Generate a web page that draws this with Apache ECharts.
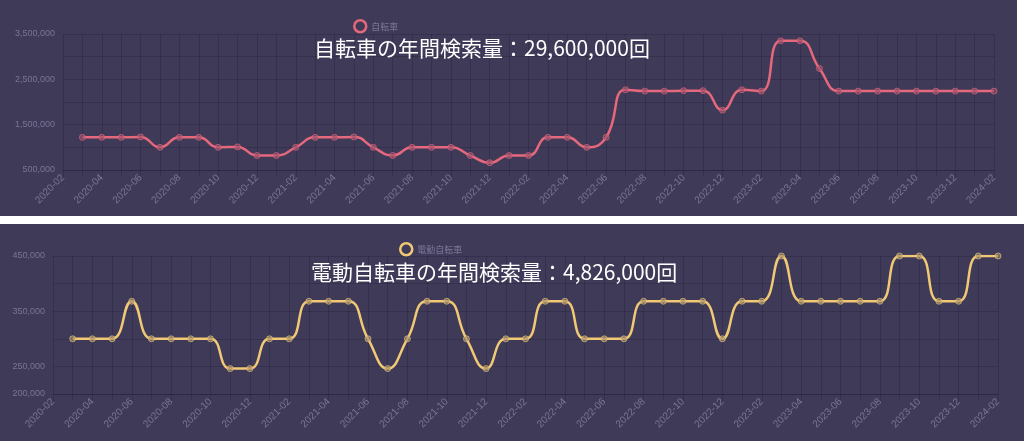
<!DOCTYPE html>
<html><head><meta charset="utf-8">
<script src="https://cdn.jsdelivr.net/npm/echarts@6/dist/echarts.min.js"></script>
<style>
html,body{margin:0;padding:0;background:#ffffff;width:1024px;height:441px;overflow:hidden;}
#c1{position:absolute;left:0;top:0;width:1017px;height:216px;}
#c2{position:absolute;left:0;top:224px;width:1024px;height:217px;}
</style></head>
<body>
<div id="c1"></div>
<div id="c2"></div>
<script>
// Months 2020-02 .. 2024-02
const months = ["2020-02","2020-03","2020-04","2020-05","2020-06","2020-07","2020-08","2020-09","2020-10","2020-11","2020-12",
"2021-01","2021-02","2021-03","2021-04","2021-05","2021-06","2021-07","2021-08","2021-09","2021-10","2021-11","2021-12",
"2022-01","2022-02","2022-03","2022-04","2022-05","2022-06","2022-07","2022-08","2022-09","2022-10","2022-11","2022-12",
"2023-01","2023-02","2023-03","2023-04","2023-05","2023-06","2023-07","2023-08","2023-09","2023-10","2023-11","2023-12",
"2024-01","2024-02"];

const bikeName = "自転車";
const bikeTitle = "自転車の年間検索量：29,600,000回";
const bikeValues = [null,
 1220000,1220000,1220000,1230000,1000000,1220000,1220000,1000000,1010000,820000,
 820000,1000000,1220000,1220000,1230000,1000000,820000,1000000,1000000,1000000,820000,660000,
 820000,820000,1220000,1220000,1000000,1220000,2270000,2240000,2240000,2250000,2250000,1820000,
 2270000,2240000,3350000,3350000,2740000,2240000,2240000,2240000,2240000,2240000,2240000,2240000,
 2240000,2240000];
const bikeYLabels = [500000,1500000,2500000,3500000];

const ebikeName = "電動自転車";
const ebikeTitle = "電動自転車の年間検索量：4,826,000回";
const ebikeValues = [null,
 300000,300000,300000,368000,300000,300000,300000,300000,246000,246000,
 300000,300000,368000,368000,368000,300000,246000,300000,368000,368000,300000,246000,
 300000,300000,368000,368000,300000,300000,300000,368000,368000,368000,368000,300000,
 368000,368000,450000,368000,368000,368000,368000,368000,450000,450000,368000,368000,
 450000,450000];
const ebikeYLabels = [200000,250000,350000,450000];

const BG = "#3e3a58";
const GRIDC = "rgba(15,10,35,0.2)";
const LBL = "#7a7696";

function fmt(v){ return v.toLocaleString('en-US'); }

function build(el, cfg){
  const chart = echarts.init(document.getElementById(el), null, {renderer:'canvas'});
  chart.setOption({
    backgroundColor: BG,
    animation:false,
    title:{text:cfg.title,left:cfg.titleLeft,top:cfg.titleTop,
      textStyle:{color:'#ffffff',fontSize:21,fontWeight:'normal',fontFamily:'"Noto Sans CJK JP","Noto Sans",sans-serif'}},
    legend:{data:[cfg.name],left:cfg.legLeft,top:cfg.legTop,itemWidth:12,itemHeight:12,itemGap:4,
      icon:'circle',
      itemStyle:{color:'transparent',borderColor:cfg.color,borderWidth:2.5},
      textStyle:{color:LBL,fontSize:9,fontFamily:'"Noto Sans CJK JP",sans-serif'}},
    grid:cfg.grid,
    xAxis:{type:'category',data:months,boundaryGap:false,
      axisLine:{show:true,lineStyle:{color:GRIDC}},
      axisTick:{show:true,interval:0,length:7,lineStyle:{color:GRIDC}},
      splitLine:{show:true,interval:0,lineStyle:{color:GRIDC}},
      axisLabel:{interval:1,rotate:45,color:LBL,fontSize:10,margin:6,fontFamily:'"Liberation Sans",Arial,sans-serif'}},
    yAxis:{type:'value',min:cfg.min,max:cfg.max,interval:cfg.interval,
      axisLine:{show:false},axisTick:{show:false},
      splitLine:{show:true,lineStyle:{color:GRIDC}},
      axisLabel:{color:LBL,fontSize:9,margin:8,fontFamily:'"Liberation Sans",Arial,sans-serif',
        formatter:function(v){return cfg.ylabels.indexOf(v)>=0?fmt(v):'';}}},
    series:[{name:cfg.name,type:'line',data:cfg.values,smooth:true,
      symbol:'circle',symbolSize:6,showSymbol:true,
      lineStyle:{color:cfg.color,width:2.5},
      itemStyle:{color:cfg.symFill,borderColor:cfg.symColor,borderWidth:1}}]
  });
}

build('c1',{title:bikeTitle,name:bikeName,values:bikeValues,ylabels:bikeYLabels,
  color:'#e5687c',symColor:'rgba(229,104,124,0.65)',symFill:'rgba(150,80,110,0.6)',min:500000,max:3500000,interval:500000,
  grid:{left:63,right:23,top:34,bottom:46},titleLeft:309,titleTop:33,legLeft:348,legTop:14});
build('c2',{title:ebikeTitle,name:ebikeName,values:ebikeValues,ylabels:ebikeYLabels,
  color:'#f1c874',symColor:'rgba(241,200,116,0.65)',symFill:'rgba(160,140,110,0.6)',min:200000,max:450000,interval:50000,
  grid:{left:53,right:26,top:32,bottom:47},titleLeft:306,titleTop:33,legLeft:394,legTop:13});
</script>
</body></html>
